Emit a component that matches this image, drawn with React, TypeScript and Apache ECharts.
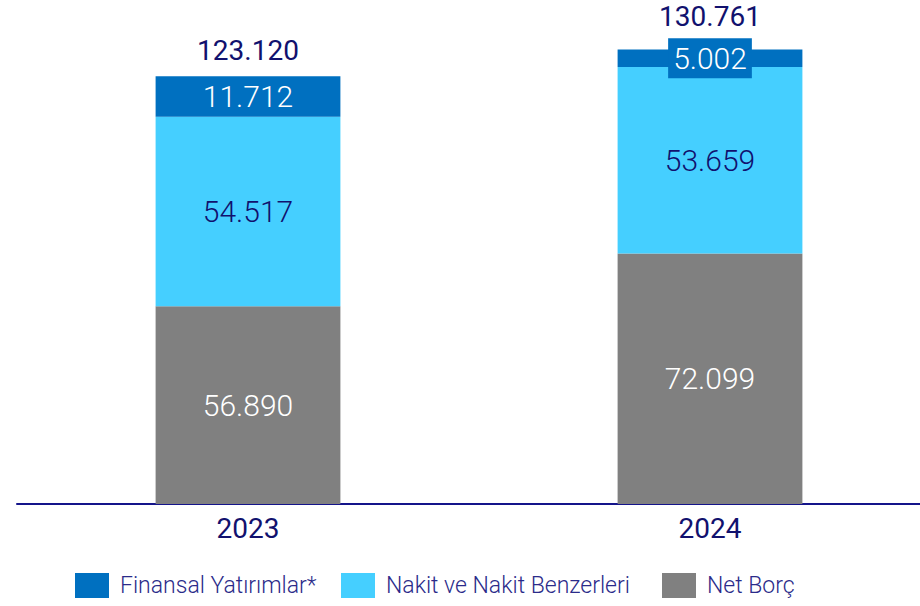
import React, { useEffect, useRef } from "react";
import * as echarts from "echarts";

const categories = ["2023", "2024"];
const netBorc = [56890, 72099];
const nakit = [54517, 53659];
const finansal = [11712, 5002];
const totals = [123120, 130761];
const seriesNames = ["Finansal Yatırımlar*", "Nakit ve Nakit Benzerleri", "Net Borç"];

const NAVY = "#11116E";
const fmt = (v: number) => {
  const s = Math.round(v).toString();
  return s.replace(/\B(?=(\d{3})+(?!\d))/g, ".");
};

export default function App() {
  const ref = useRef<HTMLDivElement>(null);
  useEffect(() => {
    if (!ref.current) return;
    const chart = echarts.init(ref.current, null, { renderer: "svg" });
    const segLabel = (color: string) => ({
      show: true,
      position: "inside",
      color,
      fontFamily: "Roboto",
      fontWeight: 300,
      fontSize: 30,
      formatter: (p: any) => fmt(p.value),
    });
    const legendPos = [70, 336, 657];
    chart.setOption({
      animation: false,
      textStyle: { fontFamily: "Roboto" },
      grid: { left: 17, top: 17.5, bottom: 102, width: 924, containLabel: false },
      xAxis: {
        type: "category",
        data: categories,
        axisLine: { show: true, lineStyle: { color: "#14148A", width: 2 } },
        axisTick: { show: false },
        axisLabel: { color: NAVY, fontSize: 28, fontFamily: "Roboto", margin: 10 },
      },
      yAxis: {
        type: "value",
        min: 0,
        max: 140000,
        show: false,
        splitLine: { show: false },
      },
      legend: seriesNames.map((n, i) => ({
        data: [n],
        left: legendPos[i],
        top: 568,
        itemWidth: 34,
        itemHeight: 25,
        icon: "rect",
        textStyle: { color: "#2B2B8A", fontSize: 23, fontFamily: "Roboto", fontWeight: 300, padding: [0, 0, 0, 6] },
      })),
      series: [
        {
          name: "Net Borç",
          type: "bar",
          stack: "a",
          barWidth: "40%",
          data: netBorc,
          itemStyle: { color: "#808080" },
          label: segLabel("#FFFFFF"),
        },
        {
          name: "Nakit ve Nakit Benzerleri",
          type: "bar",
          stack: "a",
          data: nakit,
          itemStyle: { color: "#45CFFF" },
          label: segLabel(NAVY),
        },
        {
          name: "Finansal Yatırımlar*",
          type: "bar",
          stack: "a",
          data: finansal.map((v, i) =>
            i === 1
              ? {
                  value: v,
                  label: {
                    backgroundColor: "#0070C0",
                    padding: [6, 5, 4, 5],
                  },
                }
              : v
          ),
          itemStyle: { color: "#0070C0" },
          label: segLabel("#FFFFFF"),
        },
        {
          name: "total",
          type: "bar",
          barGap: "-100%",
          barWidth: "40%",
          silent: true,
          z: 1,
          itemStyle: { color: "rgba(0,0,0,0)" },
          data: totals.map((v, i) => ({
            value: v,
            label: { distance: i === 0 ? 12 : 19 },
          })),
          label: {
            show: true,
            position: "top",
            color: NAVY,
            fontSize: 28,
            fontFamily: "Roboto",
            fontWeight: 400,
            formatter: (p: any) => fmt(p.value),
          },
        },
      ],
    });
    return () => chart.dispose();
  }, []);
  return (
    <div style={{ position: "absolute", left: 0, top: 0, width: 920, height: 606, overflow: "hidden", background: "#fff" }}>
      <div ref={ref} style={{ width: 945, height: 606 }} />
    </div>
  );
}
